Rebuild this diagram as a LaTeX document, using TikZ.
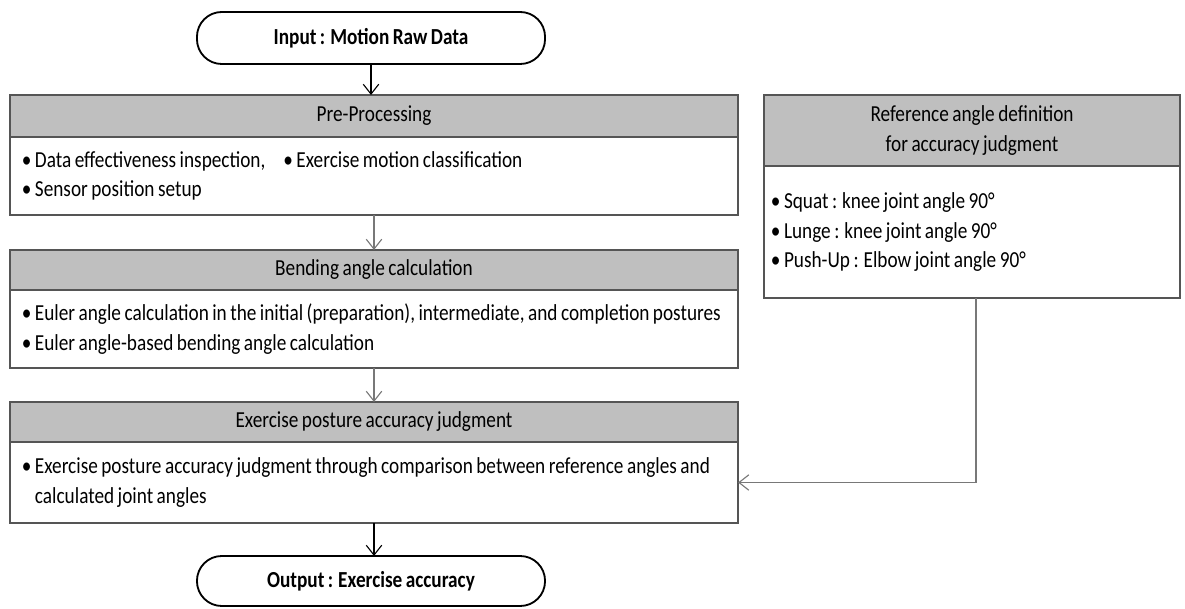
\documentclass[tikz,border=0pt]{standalone}
\usepackage{fontspec}
\setmainfont{Carlito}[FakeStretch=0.84, WordSpace=0.8]
\usetikzlibrary{arrows.meta,positioning}

\definecolor{headgray}{RGB}{191,191,191}
\definecolor{framegray}{RGB}{85,85,85}
\definecolor{arrowgray}{RGB}{120,120,120}

\tikzset{
  term/.style={draw=black, line width=1.3pt, rounded corners=0.62cm,
    minimum width=8.7cm, minimum height=1.3cm, outer sep=0pt},
  head/.style={draw=framegray, line width=1.1pt, fill=headgray, align=center,
    minimum width=#1, outer sep=0pt, inner sep=0pt},
  body/.style={draw=framegray, line width=1.1pt, fill=white, align=flush left,
    minimum width=#1, outer sep=0pt, inner xsep=0.3cm, inner ysep=0pt},
  arr/.style={-{Straight Barb[length=7pt,width=11pt]}, line width=0.8pt},
}

\begin{document}
\begin{tikzpicture}[x=0.025cm, y=-0.025cm, every node/.style={font=\fontsize{16.3}{21}\selectfont}]

    % frame
    \useasboundingbox (0,0) rectangle (1185,609);

    % Start / end
    \node[term] (input) at (371,38) {\bfseries Input : Motion Raw Data};
    \node[term, minimum height=1.25cm] (output) at (371,581) {\bfseries Output : Exercise accuracy};

    % Pre-processing
    \node[head=18.2cm, minimum height=1.05cm] (prehead) at (374,116) {Pre-Processing};
    \node[body=18.2cm, minimum height=1.95cm, text width=17.6cm, below=0pt of prehead] (prebody)
      {\begin{tabular}{@{}l@{\hspace{0.45cm}}l@{}}
       • Data effectiveness inspection, & • Exercise motion classification\\
       • Sensor position setup & \\
       \end{tabular}};

    % Bending angle
    \node[head=18.2cm, minimum height=1.0cm] (bendhead) at (374,270) {Bending angle calculation};
    \node[body=18.2cm, minimum height=1.95cm, text width=17.6cm, below=0pt of bendhead] (bendbody)
      {• Euler angle calculation in the initial (preparation), intermediate, and completion postures\\
       • Euler angle-based bending angle calculation};

    % Accuracy judgment
    \node[head=18.2cm, minimum height=1.0cm] (judghead) at (374,422) {Exercise posture accuracy judgment};
    \node[body=18.2cm, minimum height=2.025cm, text width=17.6cm, below=0pt of judghead] (judgbody)
      {• Exercise posture accuracy judgment through comparison between reference angles and\\
       \phantom{• }calculated joint angles};

    % Reference angles
    \node[head=10.4cm, minimum height=1.775cm] (refhead) at (972,130.5)
      {Reference angle definition\\for accuracy judgment};
    \node[body=10.4cm, minimum height=3.3cm, inner xsep=0.175cm, text width=10.05cm, below=0pt of refhead] (refbody)
      {• Squat : knee joint angle 90°\\
       • Lunge : knee joint angle 90°\\
       • Push-Up : Elbow joint angle 90°};

    % Arrows
    \draw[arr] (input.south) -- (input.south |- prehead.north);
    \draw[arr, arrowgray] (prebody.south) -- (bendhead.north);
    \draw[arr, arrowgray] (bendbody.south) -- (judghead.north);
    \draw[arr] (judgbody.south) -- (output.north -| judgbody.south);
    \draw[arr, arrowgray] ([xshift=0.1cm]refbody.south) |- (judgbody.east);

\end{tikzpicture}
\end{document}
